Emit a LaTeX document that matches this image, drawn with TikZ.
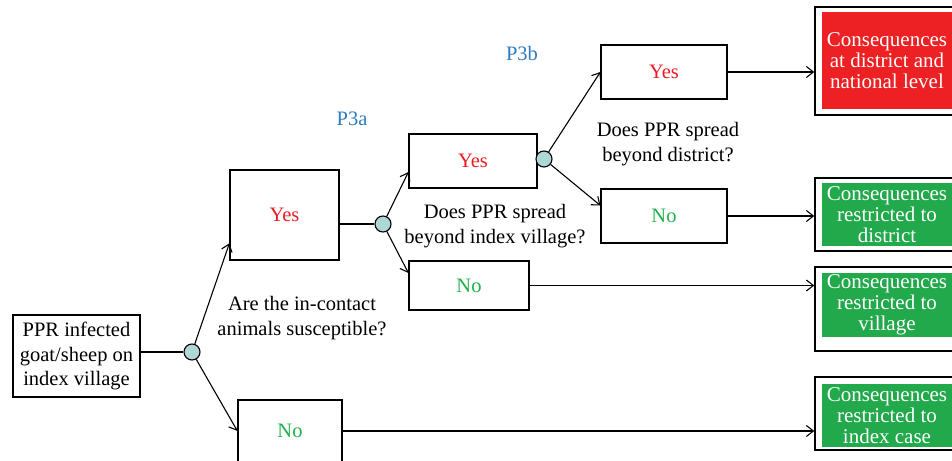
\documentclass[tikz,border=0pt]{standalone}
\usepackage{fontspec}
\setmainfont{Liberation Serif}
\usetikzlibrary{arrows.meta,calc}
\definecolor{yesred}{HTML}{ED1C24}
\definecolor{nogreen}{HTML}{22B14C}
\definecolor{fillred}{HTML}{ED2024}
\definecolor{fillgreen}{HTML}{22A94B}
\definecolor{juncfill}{HTML}{AFD7D8}
\definecolor{pblue}{HTML}{2E7BC4}
\tikzset{
  box/.style={draw, line width=1.2pt, inner sep=0pt, align=center, font=\fontsize{20.5}{24.5}\selectfont},
  junction/.style={circle, draw, fill=juncfill, minimum size=16pt, inner sep=0pt, line width=1.1pt},
  link/.style={line width=1.1pt},
  arrowlink/.style={line width=1.1pt, -{Straight Barb[length=7pt,width=11pt,line width=1.1pt]}},
  question/.style={align=center, inner sep=0pt, font=\fontsize{20.5}{24.5}\selectfont},
  plabel/.style={text=pblue, inner sep=0pt, font=\fontsize{20.5}{24}\selectfont},
  outerbox/.style={draw, line width=1.5pt, inner sep=0pt},
  innerbox/.style={inner sep=0pt, align=center, text=white, font=\fontsize{21}{21}\selectfont},
}
\begin{document}
\begin{tikzpicture}[x=1pt,y=-1pt]
\useasboundingbox (0,0) rectangle (952,460);
\clip (0,0) rectangle (952,460);
\fill[white] (0,0) rectangle (952,460);

% decision boxes
\node[box, minimum width=127pt, minimum height=82pt] (root) at (76.5,356) {PPR infected\\goat/sheep on\\index village};
\node[junction] (j1) at (192,352) {};
\node[box, minimum width=109pt, minimum height=90pt, text=yesred] (yes1) at (284.5,215) {Yes};
\node[box, minimum width=104pt, minimum height=62pt, text=nogreen] (no1) at (290,431) {No};
\node[junction] (j2) at (383,224) {};
\node[box, minimum width=128pt, minimum height=54pt, text=yesred] (yes2) at (473,161) {Yes};
\node[box, minimum width=120pt, minimum height=49pt, text=nogreen] (no2) at (469,285.5) {No};
\node[junction] (j3) at (544,159) {};
\node[box, minimum width=126pt, minimum height=54pt, text=yesred] (yes3) at (664,72) {Yes};
\node[box, minimum width=126pt, minimum height=54pt, text=nogreen] (no3) at (664,216) {No};

% consequence boxes
\node[outerbox, minimum width=143pt, minimum height=108pt] (c1) at (886.5,61) {};
\node[innerbox, fill=fillred, minimum width=130pt, minimum height=97pt] (c1i) at (887,60.5) {Consequences\\at district and\\national level};
\node[outerbox, minimum width=143pt, minimum height=73pt] (c2) at (886.5,214.5) {};
\node[innerbox, fill=fillgreen, minimum width=130pt, minimum height=63pt] (c2i) at (887,214.5) {Consequences\\restricted to\\district};
\node[outerbox, minimum width=143pt, minimum height=84pt] (c3) at (886.5,309) {};
\node[innerbox, fill=fillgreen, minimum width=130pt, minimum height=64pt] (c3i) at (887,305) {Consequences\\restricted to\\village};
\node[outerbox, minimum width=143pt, minimum height=73pt] (c4) at (886.5,413.5) {};
\node[innerbox, fill=fillgreen, minimum width=130pt, minimum height=63pt] (c4i) at (887,415.5) {Consequences\\restricted to\\index case};

% labels
\node[plabel] (p3a) at (352,119) {P3a};
\node[plabel] (p3b) at (522,53) {P3b};
\node[question] (q1) at (302,318) {Are the in-contact\\animals susceptible?};
\node[question] (q2) at (495,226) {Does PPR spread\\beyond index village?};
\node[question] (q3) at (668,144) {Does PPR spread\\beyond district?};

% connectors
\draw[link] (j1 -| root.east) -- (j1);
\draw[arrowlink] (j1) -- ($(yes1.south west)!0.19!(yes1.north west)$);
\draw[arrowlink] (j1) -- (no1.west);
\draw[link] (j2 -| yes1.east) -- (j2);
\draw[arrowlink] (j2) -- ($(yes2.south west)!0.3!(yes2.north west)$);
\draw[arrowlink] (j2) -- ($(no2.north west)!0.25!(no2.south west)$);
\draw[arrowlink] (j3) -- (yes3.west);
\draw[arrowlink] (j3) -- ($(no3.north west)!0.31!(no3.south west)$);
\draw[arrowlink] (yes3.east) -- (yes3.east -| c1.west);
\draw[arrowlink] (no3.east) -- (no3.east -| c2.west);
\draw[arrowlink] (no2.east) -- (no2.east -| c3.west);
\draw[arrowlink] (no1.east) -- (no1.east -| c4.west);
\end{tikzpicture}
\end{document}
